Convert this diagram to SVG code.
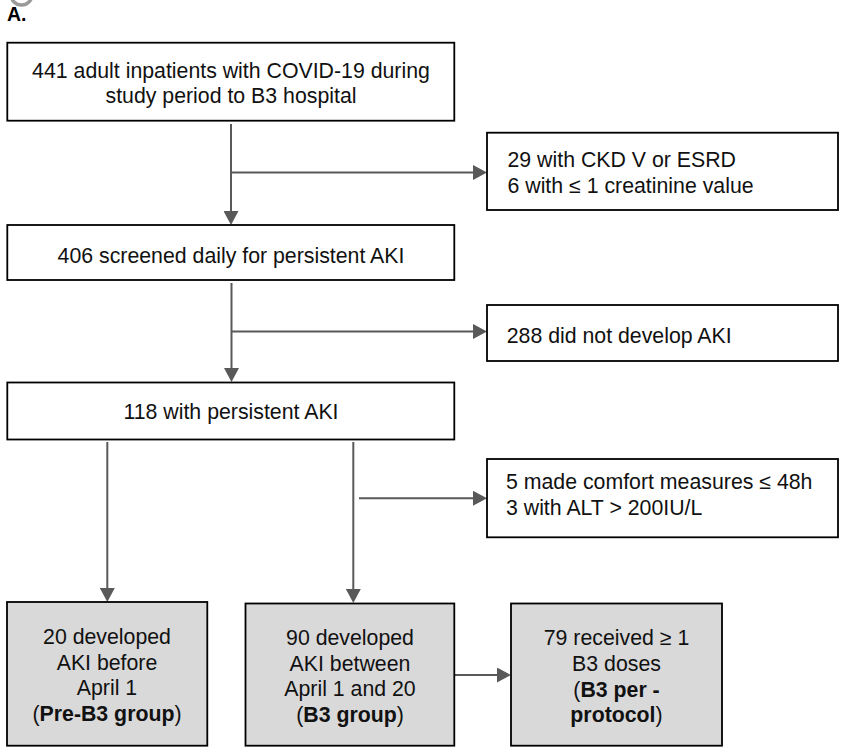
<svg xmlns="http://www.w3.org/2000/svg" width="861" height="748" viewBox="0 0 861 748">
<defs>
<marker id="ah" viewBox="0 0 14 15" refX="4" refY="7.5" markerWidth="14" markerHeight="15" markerUnits="userSpaceOnUse" orient="auto">
<path d="M0,0 L14,7.5 L0,15 Z" fill="#595959"/>
</marker>
<style>
.box{fill:#ffffff;stroke:#000000;stroke-width:1.8}
.gbox{fill:#d9d9d9;stroke:#000000;stroke-width:1.8}
.t{font-family:"Liberation Sans",Arial,Helvetica,sans-serif;font-size:21.3px;fill:#111111}
.c{text-anchor:middle}
.b{font-weight:bold}
.ln{stroke:#595959;stroke-width:2;fill:none;marker-end:url(#ah)}
</style>
</defs>
<rect width="861" height="748" fill="#ffffff"/>
<circle cx="21.5" cy="-5.5" r="10.5" fill="none" stroke="#9a9a9a" stroke-width="3.5"/>
<text x="7" y="21" font-family="'Liberation Sans',Arial,sans-serif" font-size="19.5" font-weight="bold" fill="#000">A.</text>

<g id="connectors">
<line class="ln" x1="231" y1="124" x2="231" y2="215"/>
<line class="ln" x1="231" y1="172.5" x2="477" y2="172.5"/>
<line class="ln" x1="231.5" y1="283" x2="231.5" y2="372"/>
<line class="ln" x1="231.5" y1="331.5" x2="477" y2="331.5"/>
<line class="ln" x1="107.3" y1="442" x2="107.3" y2="592"/>
<line class="ln" x1="353.3" y1="442" x2="353.3" y2="593"/>
<line class="ln" x1="359" y1="498.3" x2="477" y2="498.3"/>
<line class="ln" x1="455" y1="675" x2="501" y2="675"/>
</g>

<g id="n1">
<rect class="box" x="7.3" y="42.7" width="447" height="78"/>
<text class="t c" x="231" y="78">441 adult inpatients with COVID-19 during</text>
<text class="t c" x="231" y="102.5">study period to B3 hospital</text>
</g>
<g id="n2">
<rect class="box" x="487" y="132.7" width="351" height="77.3"/>
<text class="t" x="507.5" y="167">29 with CKD V or ESRD</text>
<text class="t" x="507.5" y="193">6 with ≤ 1 creatinine value</text>
</g>
<g id="n3">
<rect class="box" x="7.3" y="225" width="447" height="55"/>
<text class="t c" x="231" y="263">406 screened daily for persistent AKI</text>
</g>
<g id="n4">
<rect class="box" x="487" y="305" width="351" height="56"/>
<text class="t" x="506.7" y="343">288 did not develop AKI</text>
</g>
<g id="n5">
<rect class="box" x="7.3" y="382.5" width="447" height="57"/>
<text class="t c" x="231" y="419">118 with persistent AKI</text>
</g>
<g id="n6">
<rect class="box" x="487" y="459" width="351" height="78.3"/>
<text class="t" x="506" y="489">5 made comfort measures ≤ 48h</text>
<text class="t" x="506" y="515">3 with ALT &gt; 200IU/L</text>
</g>
<g id="n7">
<rect class="gbox" x="7" y="602" width="200.3" height="143.7"/>
<text class="t c" x="107" y="644">20 developed</text>
<text class="t c" x="107" y="669.5">AKI before</text>
<text class="t c" x="107" y="695">April 1</text>
<text class="t c" x="107" y="720.5">(<tspan class="b">Pre-B3 group</tspan>)</text>
</g>
<g id="n8">
<rect class="gbox" x="245.5" y="603.5" width="208.8" height="142.2"/>
<text class="t c" x="350" y="645">90 developed</text>
<text class="t c" x="350" y="670.5">AKI between</text>
<text class="t c" x="350" y="696">April 1 and 20</text>
<text class="t c" x="350" y="721.5">(<tspan class="b">B3 group</tspan>)</text>
</g>
<g id="n9">
<rect class="gbox" x="511" y="603.5" width="211" height="142.2"/>
<text class="t c" x="616.5" y="645">79 received ≥ 1</text>
<text class="t c" x="616.5" y="670.5">B3 doses</text>
<text class="t c" x="616.5" y="696.5">(<tspan class="b">B3 per -</tspan></text>
<text class="t c" x="616.5" y="721.5"><tspan class="b">protocol</tspan>)</text>
</g>
</svg>
